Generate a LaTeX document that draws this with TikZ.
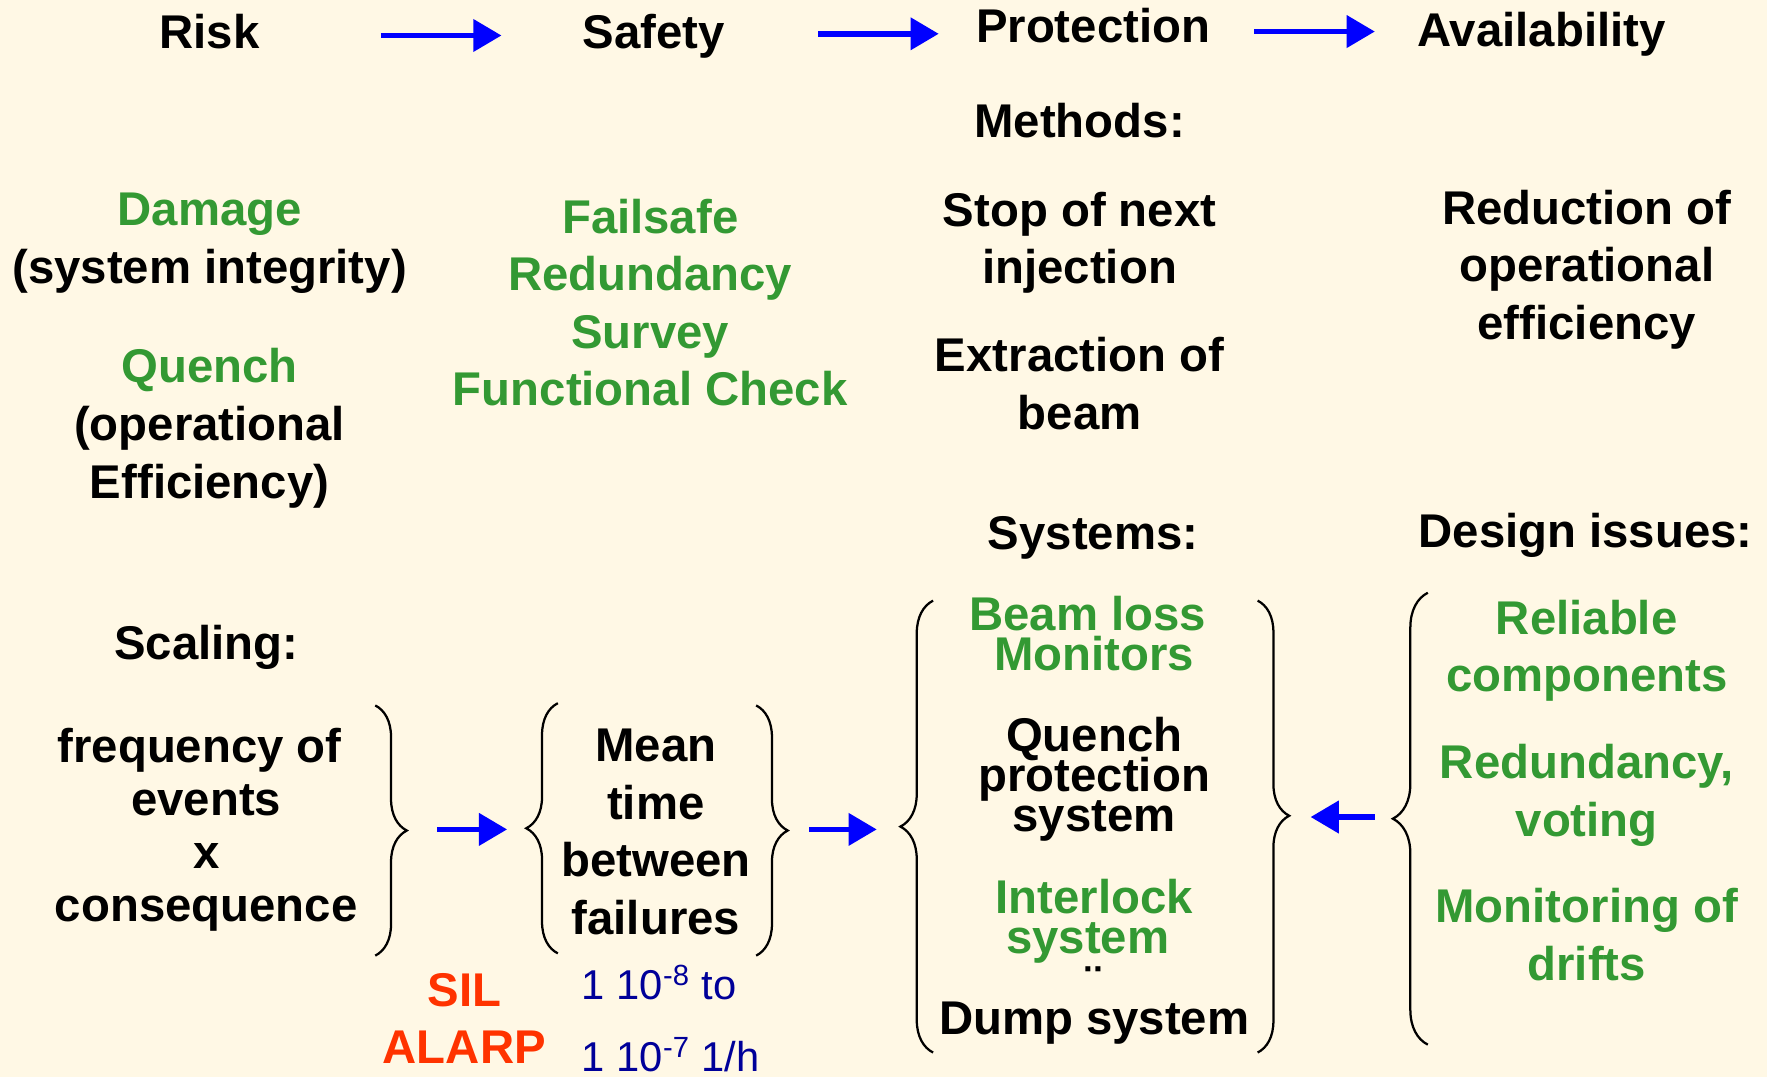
\documentclass[tikz,border=0pt]{standalone}
\usepackage{fontspec}
\setmainfont{Liberation Sans}
\usetikzlibrary{arrows.meta,positioning,decorations.pathreplacing}

\definecolor{paper}{HTML}{FFF8E5}
\definecolor{okgreen}{HTML}{339933}
\definecolor{alarmred}{HTML}{FF3300}
\definecolor{rateblue}{HTML}{000099}
\definecolor{flowblue}{HTML}{0000FF}
\newcommand{\tightlines}{\lineskiplimit=-50pt\relax}

\begin{document}
\begin{tikzpicture}[
    x=0.5pt, y=-0.5pt,
    txt/.style={font=\bfseries\fontsize{21}{25.5}\selectfont, align=center, inner sep=0pt, anchor=base},
    good/.style={txt, text=okgreen},
    tight/.style={txt, font={\bfseries\fontsize{21}{17.75}\selectfont\tightlines}},
    warn/.style={txt, text=alarmred},
    rate/.style={font=\fontsize{18.5}{22}\selectfont, text=rateblue, inner sep=0pt, anchor=base west},
    line/.style={-{Triangle[length=12.5pt,width=14pt]}, line width=2.4pt, draw=flowblue},
    curly/.style={decorate, decoration={brace, amplitude=14pt}, line width=1pt}
]
\fill[paper] (0,0) rectangle (1568,956);

\node[txt] (risk) at (186,43) {Risk};
\node[txt] (safety) at (580,43) {Safety};
\node[txt] (protection) at (970,38) {Protection};
\node[txt] (avail) at (1368,41) {Availability};
\node[txt] (methods) at (958,122) {Methods:};

\node[good] (damage) at (186,200) {Damage};
\node[txt] (integrity) at (186,252) {(system integrity)};
\node[good] (quench) at (186,339) {Quench};
\node[txt] (efficiency) at (186,442) {(operational\\Efficiency)};
\node[good] (measures) at (577,360) {Failsafe\\Redundancy\\Survey\\Functional Check};
\node[txt] (stop) at (958,252) {Stop of next\\injection};
\node[txt] (extract) at (958,381) {Extraction of\\beam};
\node[txt] (reduction) at (1408,301) {Reduction of\\operational\\efficiency};

\node[txt] (scaling) at (183,585) {Scaling:};
\node[txt] (systems) at (970,488) {Systems:};
\node[txt] (design) at (1407,486) {Design issues:};

\node[txt, font=\bfseries\fontsize{21}{23.5}\selectfont] (freq) at (183,818) {frequency of\kern.278em\\events\\x\\consequence};
\node[txt] (mtbf) at (582,829) {Mean\\time\\between\\failures};
\node[warn] (sil) at (412,944) {SIL\\ALARP};
\node[rate] (rlow) at (516,887) {1 10\textsuperscript{-8} to};
\node[rate] (rhigh) at (516,951) {1 10\textsuperscript{-7} 1/h};

\node[tight, text=okgreen] (blm) at (971,595) {Beam loss\kern.278em\\Monitors};
\node[tight] (qps) at (971,738) {Quench\\protection\\system};
\node[tight, text=okgreen] (interlock) at (971,846) {Interlock\\system\kern.278em};
\node[txt] (dots) at (970,887) {¨};
\node[txt] (dump) at (971,918) {Dump system};

\node[good] (reliable) at (1408,614) {Reliable\\components};
\node[good] (voting) at (1408,742) {Redundancy,\\voting};
\node[good] (drifts) at (1408,870) {Monitoring of\\drifts};

\coordinate (riskout) at (338,31.5);
\coordinate (safetyin) at (445,31.5);
\coordinate (safetyout) at (726,30);
\coordinate (protin) at (833,30);
\coordinate (protout) at (1113,28);
\coordinate (availin) at (1220,28);
\coordinate (scaleout) at (388,736);
\coordinate (mtbfin) at (450,736);
\coordinate (mtbfout) at (718,736);
\coordinate (sysin) at (778,736);
\coordinate (designout) at (1220,725);
\coordinate (sysback) at (1163,725);

\draw[line] (riskout) -- (safetyin);
\draw[line] (safetyout) -- (protin);
\draw[line] (protout) -- (availin);
\draw[line] (scaleout) -- (mtbfin);
\draw[line] (mtbfout) -- (sysin);
\draw[line] (designout) -- (sysback);

\draw[curly] (333,626) -- (333,848);
\draw[curly] (495,846) -- (495,624);
\draw[curly] (671,626) -- (671,848);
\draw[curly, decoration={amplitude=14.5pt}] (828,934) -- (828,533);
\draw[curly, decoration={aspect=0.476}] (1116,533) -- (1116,934);
\draw[curly, decoration={amplitude=15.5pt}] (1267,927) -- (1267,526);
\end{tikzpicture}
\end{document}
